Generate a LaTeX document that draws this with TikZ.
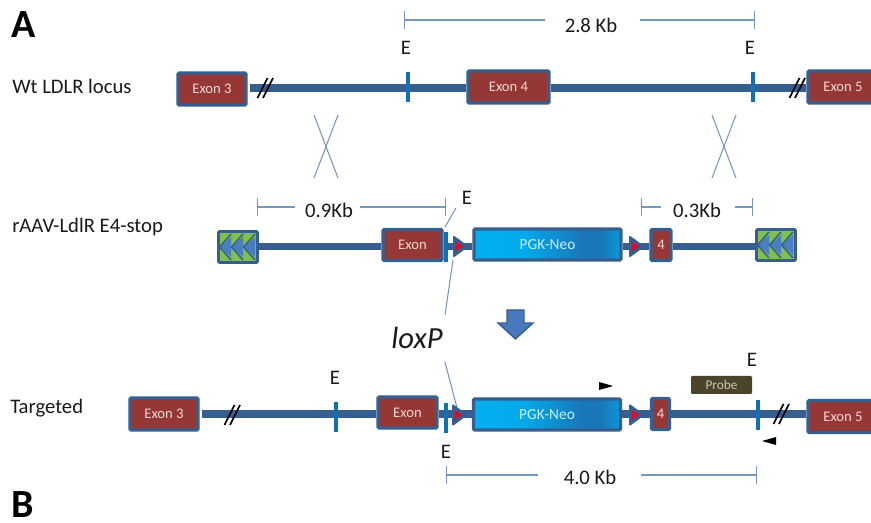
\documentclass[tikz,border=0pt]{standalone}
\usepackage{fontspec}
\setmainfont{Carlito}
\usetikzlibrary{arrows.meta,calc,positioning}
\definecolor{ink}{RGB}{25,25,25}
\definecolor{bbone}{RGB}{54,94,143}
\definecolor{exonfill}{RGB}{149,55,53}
\definecolor{exontext}{RGB}{240,215,212}
\definecolor{sitecol}{RGB}{16,112,180}
\definecolor{dimcol}{RGB}{118,152,190}
\definecolor{itrgreen}{RGB}{128,192,80}
\definecolor{itrblue}{RGB}{74,126,196}
\definecolor{loxred}{RGB}{226,10,40}
\definecolor{probefill}{RGB}{74,69,42}
\definecolor{neoa}{RGB}{0,176,240}
\definecolor{neob}{RGB}{25,118,185}
\pgfdeclarehorizontalshading{neoshade}{100bp}{
  color(0bp)=(neoa); color(25bp)=(neoa); color(42bp)=(neoa!90!neob);
  color(62bp)=(neob); color(68bp)=(neob); color(75bp)=(neoa!60!neob); color(100bp)=(neoa)}
\tikzset{
  exon/.style={
    draw=bbone, fill=exonfill, line width=2.4pt, rounded corners=0.8pt,
    minimum height=#1*0.75pt, minimum width=22*0.75pt, inner sep=0pt,
    text=exontext, font=\fontsize{11}{13}\selectfont,
  },
  exon/.default=31,
  neo/.style={
    draw=bbone, shading=neoshade, line width=2.4pt, rounded corners=0.8pt,
    minimum height=31*0.75pt, minimum width=147*0.75pt, inner sep=0pt,
    text=white!80!neoa, font=\fontsize{11.5}{13}\selectfont,
  },
  itr/.style={
    draw=bbone, fill=itrgreen, line width=2pt, rounded corners=0.8pt,
    minimum height=31*0.75pt, minimum width=39*0.75pt, inner sep=0pt,
  },
  site/.style={
    fill=sitecol, minimum width=4*0.75pt, minimum height=30*0.75pt, inner sep=0pt,
  },
  probebox/.style={
    fill=probefill, rounded corners=0.8pt, minimum width=61*0.75pt,
    minimum height=18*0.75pt, inner sep=0pt,
    text=exontext!85!probefill, font=\fontsize{10}{12}\selectfont,
  },
  bbarr/.style={line width=5.4pt, draw=bbone},
  dimln/.style={line width=0.8pt, draw=dimcol},
  dimbar/.style={dimln, {Bar[width=14pt,line width=0.8pt]}-},
  lbl/.style={font=\fontsize{15.5}{18}\selectfont, text=ink, inner sep=0pt},
  rowlbl/.style={lbl, anchor=west},
  panel/.style={font=\fontsize{30}{34}\selectfont\bfseries, text=black, inner sep=0pt},
  brk/.pic={
    \draw[black, line width=1.3pt] (-7.5,10) -- (2.5,-10);
    \draw[black, line width=1.3pt] (-2,10) -- (8,-10);
  },
  lox/.pic={
    \draw[bbone, fill=bbone, line width=1.5pt, line join=round] (0,-9.5) -- (13,0) -- (0,9.5) -- cycle;
    \fill[loxred] (1.5,-5) -- (9,0) -- (1.5,5) -- cycle;
  },
  itrcells/.pic={
    \foreach \i in {0,1,2}{
      \fill[itrblue] (\i*12+0.5,0) -- (\i*12+12,-10) -- (\i*12+12,10) -- cycle;
      \draw[bbone, line width=1.1pt] (\i*12+0.5,0) -- (\i*12+12,-13);
      \draw[bbone, line width=1.1pt] (\i*12+0.5,0) -- (\i*12+12,13);
    }
  },
}
\begin{document}
\begin{tikzpicture}[x=0.75pt,y=-0.75pt]
  \useasboundingbox (0,0) rectangle (871,523);
  \clip (0,0) rectangle (871,523);

  % Panel and row labels
  \node[panel] (pa) at (24,25) {A};
  \node[panel] (pb) at (23,505) {B};
  \node[rowlbl] (wt) at (12,86) {Wt LDLR locus};
  \node[rowlbl] (raav) at (12,227) {rAAV-LdlR E4-stop};
  \node[rowlbl] (targ) at (10,408) {Targeted};

  % Rows of the backbone
  \coordinate (wrow) at (0,88);
  \coordinate (vrow) at (0,246.5);
  \coordinate (trow) at (0,414);

  % Wild type locus
  \node[exon=32, minimum width=68*0.75pt] (w3) at (212,89) {Exon 3};
  \node[exon=32, minimum width=81*0.75pt] (w4) at (508.5,87) {Exon 4};
  \node[exon=32, minimum width=70*0.75pt] (w5) at (843,87) {Exon 5};
  \draw[bbarr, shorten <=2pt] (w3.east |- wrow) -- (w4.west |- wrow);
  \draw[bbarr] (w4.east |- wrow) -- (w5.west |- wrow);
  \node[site] (we1) at (408,87.5) {};
  \node[site] (we2) at (753,87.5) {};
  \node[lbl] at (406,48) {E};
  \node[lbl] at (750,48) {E};
  \pic at (265,88) {brk};
  \pic at (797,88) {brk};

  % 2.8 Kb
  \coordinate (d28l) at (404,20);
  \coordinate (d28a) at (545,20);
  \coordinate (d28b) at (640,20);
  \coordinate (d28r) at (755,20);
  \node[lbl] (d28) at (591,25) {2.8 Kb};
  \draw[dimbar] (d28l) -- (d28a);
  \draw[dimbar] (d28r) -- (d28b);

  % Crossovers
  \foreach \cx in {326,724}{
    \coordinate (c\cx a) at (\cx-12,115);
    \coordinate (c\cx b) at (\cx+12,178);
    \coordinate (c\cx c) at (\cx+12,115);
    \coordinate (c\cx d) at (\cx-12,178);
    \draw[dimln] (c\cx a) -- (c\cx b);
    \draw[dimln] (c\cx c) -- (c\cx d);
  }

  % Targeting vector
  \node[itr] (itl) at (238,247) {};
  \node[exon, minimum width=59*0.75pt] (vx) at (412.5,245) {Exon};
  \node[neo] (vn) at (547.5,244.5) {PGK-Neo};
  \node[exon, minimum width=20*0.75pt] (v4) at (661,245) {4};
  \node[itr] (itr) at (776,245) {};
  \pic at (219,247) {itrcells};
  \pic at (757,245) {itrcells};
  \draw[bbarr] (itl.east |- vrow) -- (vx.west |- vrow);
  \draw[bbarr] (vx.east |- vrow) -- (vn.west |- vrow);
  \draw[bbarr] (vn.east |- vrow) -- (v4.west |- vrow);
  \draw[bbarr] (v4.east |- vrow) -- (itr.west |- vrow);
  \node[site] (ve) at (446,247) {};
  \pic at (454,246.5) {lox};
  \pic at (630,246.5) {lox};
  \node[lbl] (vel) at (467,198) {E};
  \coordinate (vla) at (456,208);
  \coordinate (vlb) at (445,227);
  \draw[dimln] (vla) -- (vlb);

  % 0.9Kb and 0.3Kb
  \coordinate (d09l) at (257,207);
  \coordinate (d09a) at (295,207);
  \coordinate (d09b) at (360,207);
  \coordinate (d09r) at (446,207);
  \node[lbl] (d09) at (329,210) {0.9Kb};
  \draw[dimbar] (d09l) -- (d09a);
  \draw[dimbar] (d09r) -- (d09b);
  \coordinate (d03l) at (641,207);
  \coordinate (d03a) at (661,207);
  \coordinate (d03b) at (735,207);
  \coordinate (d03r) at (753,207);
  \node[lbl] (d03) at (697,210) {0.3Kb};
  \draw[dimbar] (d03l) -- (d03a);
  \draw[dimbar] (d03r) -- (d03b);

  % loxP leaders and block arrow
  \node[font=\fontsize{23}{27}\selectfont\itshape, text=ink, inner sep=0pt] (lp) at (417,338) {loxP};
  \coordinate (lpa) at (453,260);
  \coordinate (lpb) at (445,315);
  \coordinate (lpc) at (445,362);
  \coordinate (lpd) at (457,408);
  \draw[dimln] (lpa) -- (lpb);
  \draw[dimln] (lpc) -- (lpd);
  \fill[fill=itrblue!85!bbone, draw=bbone, line width=1pt] (507,310) -- (524,310) -- (524,323)
    -- (533,323) -- (515.5,339) -- (498,323) -- (507,323) -- cycle;

  % Targeted locus
  \node[exon=32, minimum width=68*0.75pt] (t3) at (164,414) {Exon 3};
  \node[exon, minimum width=59*0.75pt] (tx) at (407.5,412.5) {Exon};
  \node[neo] (tn) at (547,414.5) {PGK-Neo};
  \node[exon, minimum width=18*0.75pt] (t4) at (660.5,414) {4};
  \node[exon=32, minimum width=70*0.75pt] (t5) at (843,416.5) {Exon 5};
  \draw[bbarr, shorten <=1.5pt] (t3.east |- trow) -- (tx.west |- trow);
  \draw[bbarr] (tx.east |- trow) -- (tn.west |- trow);
  \draw[bbarr] (tn.east |- trow) -- (t4.west |- trow);
  \draw[bbarr] (t4.east |- trow) -- (t5.west |- trow);
  \node[site] (te1) at (336,417.5) {};
  \node[site] (te2) at (446,418) {};
  \node[site] (te3) at (758,415.5) {};
  \pic at (453,415) {lox};
  \pic at (630,415) {lox};
  \pic at (232,415) {brk};
  \pic at (781,414) {brk};
  \node[lbl] at (335,378) {E};
  \node[lbl] at (446,452) {E};
  \node[lbl] at (752,360) {E};
  \node[probebox] (pr) at (721.5,385) {Probe};
  \fill[black] (599,382) -- (613,386) -- (599,390) -- cycle;
  \fill[black] (776,437) -- (762,441) -- (776,445) -- cycle;

  % 4.0 Kb
  \coordinate (d40l) at (446,475);
  \coordinate (d40a) at (538,475);
  \coordinate (d40b) at (641,475);
  \coordinate (d40r) at (757,475);
  \node[lbl] (d40) at (590,477) {4.0 Kb};
  \draw[dimbar] (d40l) -- (d40a);
  \draw[dimbar] (d40r) -- (d40b);
\end{tikzpicture}
\end{document}
